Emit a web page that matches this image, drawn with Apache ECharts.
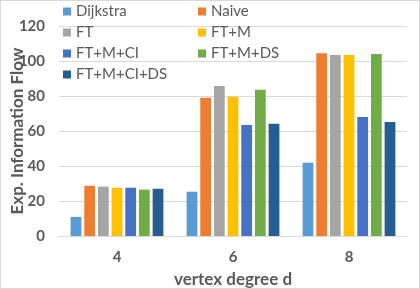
<!DOCTYPE html>
<html><head><meta charset="utf-8">
<script src="https://cdn.jsdelivr.net/npm/echarts@6/dist/echarts.min.js"></script>
<style>html,body{margin:0;padding:0;background:#fff}#c{width:420px;height:289px}</style>
</head><body><div id="c"></div>
<script>
const categories = ['4', '6', '8'];
const seriesNames = ['Dijkstra', 'Naive', 'FT', 'FT+M', 'FT+M+CI', 'FT+M+DS', 'FT+M+CI+DS'];
const dijkstra = [10.9, 25.3, 41.9];
const naive = [28.7, 79.0, 104.5];
const ft = [28.2, 85.7, 103.5];
const ftm = [27.6, 79.6, 103.4];
const ftmci = [27.6, 63.4, 68.0];
const ftmds = [26.5, 83.6, 104.0];
const ftmcids = [27.0, 64.2, 65.1];
const yTicks = [0, 20, 40, 60, 80, 100, 120];
const colors = ['#5B9BD5', '#ED7D31', '#A5A5A5', '#FFC000', '#4472C4', '#70AD47', '#255E91'];
const allData = [dijkstra, naive, ft, ftm, ftmci, ftmds, ftmcids];

const font = 'Lato, Open Sans, sans-serif';
const chart = echarts.init(document.getElementById('c'), null, {renderer: 'canvas'});
const legendCommon = {
  orient: 'vertical', top: -1, itemWidth: 8, itemHeight: 8, itemGap: 6, icon: 'rect',
  textStyle: {color: '#595959', fontSize: 15, fontFamily: font}, selectedMode: false
};
chart.setOption({
  animation: false,
  color: colors,
  grid: {left: 59, right: 13, top: 26, bottom: 53, containLabel: false, outerBoundsMode: 'none'},
  legend: [
    Object.assign({left: 58, data: [seriesNames[0], seriesNames[2], seriesNames[4], seriesNames[6]]}, legendCommon),
    Object.assign({left: 193, data: [seriesNames[1], seriesNames[3], seriesNames[5]]}, legendCommon)
  ],
  xAxis: {
    type: 'category', data: categories,
    name: 'vertex degree d', nameLocation: 'middle', nameGap: 35, nameMoveOverlap: false,
    nameTextStyle: {color: '#595959', fontSize: 17, fontWeight: 'bold', fontFamily: font},
    axisLine: {lineStyle: {color: '#D9D9D9'}}, axisTick: {show: false},
    axisLabel: {color: '#595959', fontSize: 15, fontWeight: 'bold', fontFamily: font, margin: 14}
  },
  yAxis: {
    type: 'value', min: 0, max: 120, interval: 20,
    name: 'Exp. Information Flow', nameLocation: 'middle', nameGap: 33, nameMoveOverlap: false,
    nameTextStyle: {color: '#595959', fontSize: 17, fontWeight: 'bold', fontFamily: font},
    axisLine: {show: false}, axisTick: {show: false},
    splitLine: {lineStyle: {color: '#D9D9D9'}},
    axisLabel: {color: '#595959', fontSize: 15, fontWeight: 'bold', fontFamily: font, margin: 14,
      formatter: v => yTicks.includes(v) ? String(v) : ''}
  },
  series: seriesNames.map((n, i) => ({
    name: n, type: 'bar', data: allData[i], barCategoryGap: '20%', barGap: '27%'
  }))
});
</script>
<div style="position:absolute;left:0;top:0;width:418px;height:287px;border:1px solid #D9D9D9;pointer-events:none"></div>
</body></html>
